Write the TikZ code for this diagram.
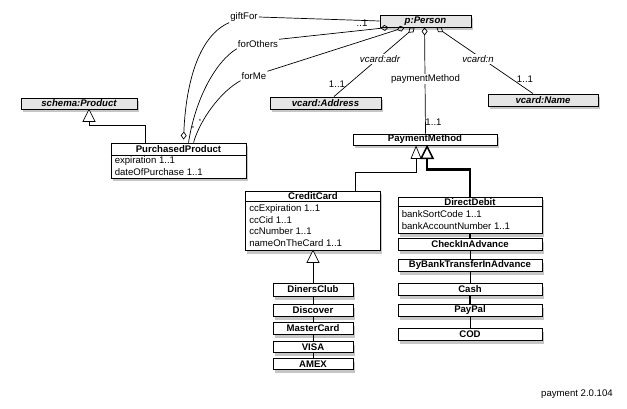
\documentclass[tikz,border=0pt]{standalone}
\usepackage{fontspec}
\setmainfont{Liberation Sans}
\usetikzlibrary{shadows,arrows.meta,calc}
\begin{document}
\begin{tikzpicture}[x=1pt,y=-1pt,
  font=\fontsize{9.6}{11}\selectfont,
  cls/.style={draw=black, line width=0.9pt, fill=white, inner sep=0pt,
    drop shadow={shadow xshift=1.5pt, shadow yshift=-3.5pt, opacity=0.45},
    font=\fontsize{9.6}{11}\selectfont\bfseries},
  ext/.style={cls, fill=black!10, font=\fontsize{9.6}{11}\selectfont\bfseries\itshape},
  hdr/.style={inner sep=0pt, font=\fontsize{9.6}{11}\selectfont\bfseries},
  attr/.style={anchor=west, inner sep=0pt},
  assoc/.style={line width=0.7pt},
  lbl/.style={fill=white, inner sep=1pt},
  ilbl/.style={lbl, font=\fontsize{9.6}{11}\selectfont\itshape},
  mult/.style={inner sep=0pt},
  agg/.style={{Diamond[open,length=8pt,width=6pt]}-},
  aggend/.style={-{Diamond[open,length=8pt,width=6pt]}},
  gen/.style={line width=0.7pt},
  genthick/.style={line width=2.2pt},
  sep/.style={line width=0.6pt}
]
\useasboundingbox (0,0) rectangle (627,409);

% ---- boxes ----
\node[ext, minimum width=91pt, minimum height=12pt] (person) at (425.5,21) {p:Person};
\node[ext, minimum width=116pt, minimum height=11pt] (product) at (79,103.5) {schema:Product};
\node[ext, minimum width=111pt, minimum height=12pt] (address) at (325.5,103) {vcard:Address};
\node[ext, minimum width=110pt, minimum height=12pt] (vname) at (543,100) {vcard:Name};
\node[cls, minimum width=144pt, minimum height=11pt] (pm) at (425,139.5) {PaymentMethod};

\node[cls, minimum width=135pt, minimum height=35pt] (pp) at (178.5,160.5) {};
\node[hdr] (pphdr) at ($(pp.north)+(0,6.5)$) {PurchasedProduct};
\draw[sep] ($(pp.north west)+(0,13)$) -- ($(pp.north east)+(0,13)$);
\node[attr] (ppa1) at ($(pp.north west)+(4,18)$) {expiration 1..1};
\node[attr] (ppa2) at ($(pp.north west)+(4,29.5)$) {dateOfPurchase 1..1};

\node[cls, minimum width=135pt, minimum height=59pt] (cc) at (313,220.5) {};
\node[hdr] (cchdr) at ($(cc.north)+(0,6)$) {CreditCard};
\draw[sep] ($(cc.north west)+(0,11)$) -- ($(cc.north east)+(0,11)$);
\node[attr] (cca1) at ($(cc.north west)+(4,18)$) {ccExpiration 1..1};
\node[attr] (cca2) at ($(cc.north west)+(4,29.5)$) {ccCid 1..1};
\node[attr] (cca3) at ($(cc.north west)+(4,41)$) {ccNumber 1..1};
\node[attr] (cca4) at ($(cc.north west)+(4,52.5)$) {nameOnTheCard 1..1};

\node[cls, minimum width=144pt, minimum height=36pt] (dd) at (470,215) {};
\node[hdr] (ddhdr) at ($(dd.north)+(0,5.5)$) {DirectDebit};
\draw[sep] ($(dd.north west)+(0,10)$) -- ($(dd.north east)+(0,10)$);
\node[attr] (dda1) at ($(dd.north west)+(4,18)$) {bankSortCode 1..1};
\node[attr] (dda2) at ($(dd.north west)+(4,30)$) {bankAccountNumber 1..1};

\node[cls, minimum width=144pt, minimum height=12pt] (checkin) at (470,244.5) {CheckInAdvance};
\node[cls, minimum width=144pt, minimum height=12pt] (bybank) at (470,265) {ByBankTransferInAdvance};
\node[cls, minimum width=144pt, minimum height=12pt] (cash) at (470,289) {Cash};
\node[cls, minimum width=144pt, minimum height=12pt] (paypal) at (470,310) {PayPal};
\node[cls, minimum width=144pt, minimum height=12pt] (cod) at (470,334.5) {COD};

\node[cls, minimum width=80pt, minimum height=13pt] (diners) at (313,289.5) {DinersClub};
\node[cls, minimum width=80pt, minimum height=11.5pt] (discover) at (313,310.5) {Discover};
\node[cls, minimum width=80pt, minimum height=11.5pt] (master) at (313,328.5) {MasterCard};
\node[cls, minimum width=80pt, minimum height=11.5pt] (visa) at (313,347) {VISA};
\node[cls, minimum width=80pt, minimum height=11.5pt] (amex) at (313,364) {AMEX};

% ---- association anchors on p:Person ----
\coordinate (pOthers) at ($(person.south west)+(9,0)$);
\coordinate (pMe) at ($(person.south west)+(25,0)$);
\coordinate (pAdr) at ($(person.south west)+(35,0)$);
\coordinate (pPm) at ($(person.south west)+(45,0)$);
\coordinate (pN) at ($(person.south west)+(57,0)$);

% ---- labels ----
\node[lbl] (giftlbl) at (244,17) {giftFor};
\node[lbl] (otherslbl) at (258,44) {forOthers};
\node[lbl] (melbl) at (254,76) {forMe};

% ---- associations ----
\draw[assoc] (giftlbl.east) -- (person.west);
\draw[assoc, agg] (pOthers) -- (otherslbl.north east);
\draw[assoc, agg] (pMe) -- (melbl.north east);
\draw[assoc, aggend] (giftlbl.south west) .. controls (200,35) and (186,80) .. ($(pp.north west)+(73,-3)$);
\draw[assoc] (otherslbl.south west) .. controls (215,62) and (195,100) .. ($(pp.north west)+(78,0)$);
\draw[assoc] (melbl.south west) .. controls (220,92) and (200,120) .. ($(pp.north west)+(83,0)$);

\draw[assoc, agg] (pAdr) -- ($(address.north)+(8.5,0)$);
\draw[assoc, agg] (pN) -- ($(vname.north)+(-10,0)$);
\draw[assoc, agg] (pPm) -- ($(pm.north)+(0.5,0)$);

\node[ilbl] (adrlbl) at (380,59) {vcard:adr};
\node[ilbl] (nlbl) at (478,59) {vcard:n};
\node[lbl] (pmlbl) at (425.5,79) {paymentMethod};

\node[mult] (m0) at (362,23) {..1};
\node[mult] (m1) at (337,84) {1..1};
\node[mult] (m2) at (525,79) {1..1};
\node[mult] (m3) at (433.5,122) {1..1};
\node[mult, font=\fontsize{6}{7}\selectfont] (s1) at (193,128.5) {*};
\node[mult, font=\fontsize{6}{7}\selectfont] (s2) at (200,121.5) {*};

% ---- generalizations ----
\coordinate (prodT) at ($(product.south)+(10,0)$);
\draw[gen, fill=white] (prodT) -- ++(6,12) -- ++(-12,0) -- cycle;
\draw[gen] ($(prodT)+(0,12)$) |- ($(pp.north west)+(35,-17)$) -- ($(pp.north west)+(35,0)$);

\coordinate (pmT1) at ($(pm.south west)+(63.5,1)$);
\coordinate (pmT2) at ($(pm.south west)+(74.5,1)$);
\draw[gen] ($(pmT1)+(0,12)$) -- ++(0,14) -| ($(cc.north)+(42,0)$);
\draw[genthick] ($(pmT2)+(0,12)$) -- ++(0,11) -| (dd.north);
\draw[gen, fill=white] (pmT1) -- ++(5,12) -- ++(-10,0) -- cycle;
\draw[line width=1.6pt, fill=white, line join=miter] (pmT2) -- ++(6,12) -- ++(-12,0) -- cycle;

\draw[genthick] (dd.south) -- (checkin.north);
\draw[gen] (checkin.south) -- (bybank.north);
\draw[gen] (bybank.south) -- (cash.north);
\draw[genthick] (cash.south) -- (paypal.north);
\draw[gen] (paypal.south) -- (cod.north);

\coordinate (ccT) at (cc.south);
\draw[gen, fill=white] (ccT) -- ++(6,12) -- ++(-12,0) -- cycle;
\draw[gen] ($(ccT)+(0,12)$) -- (diners.north);
\draw[gen] (diners.south) -- (discover.north);
\draw[gen] (discover.south) -- (master.north);
\draw[gen] (master.south) -- (visa.north);
\draw[gen] (visa.south) -- (amex.north);

\node[mult] (ver) at (577,394) {payment 2.0.104};
\end{tikzpicture}
\end{document}
